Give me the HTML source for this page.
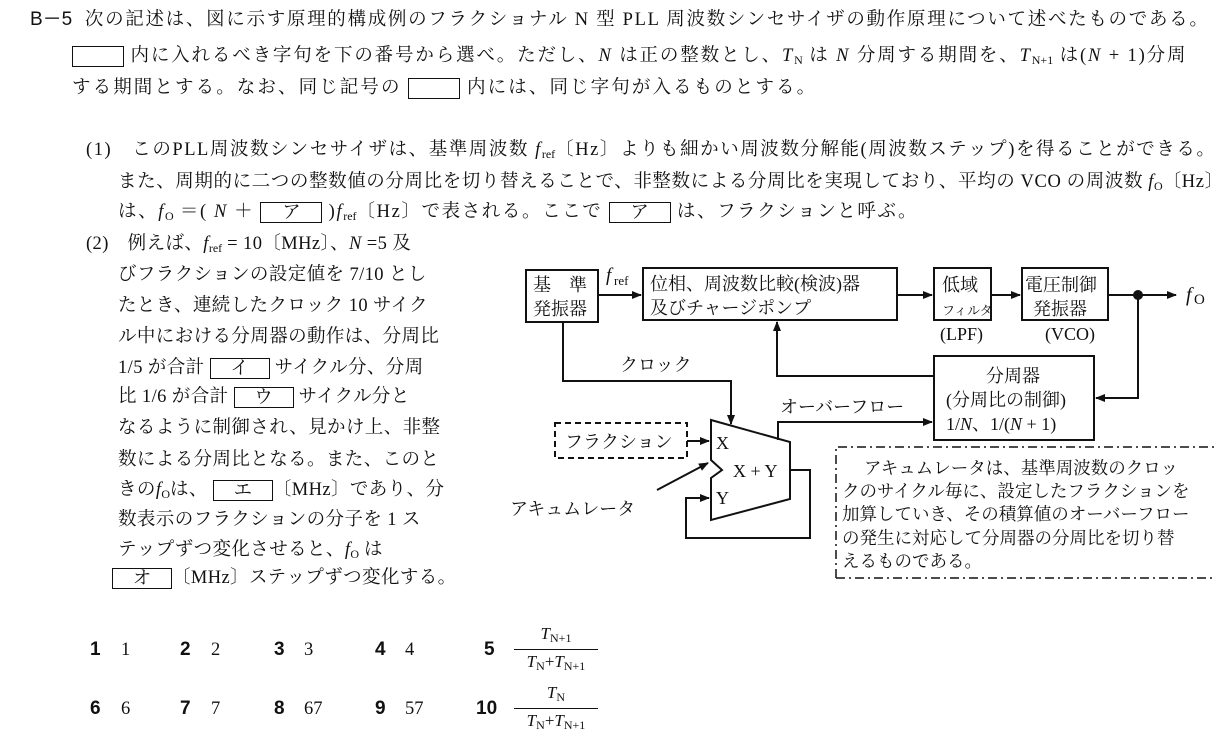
<!DOCTYPE html>
<html><head><meta charset="utf-8"><style>
body{margin:0;width:1216px;height:733px;background:#fff;position:relative;overflow:hidden;font-family:"Liberation Serif","Noto Serif CJK SC",serif;font-size:18.5px;color:#111}
.l{position:absolute;white-space:nowrap;line-height:24px}
.b{display:inline-block;border:1.5px solid #111;height:21px;vertical-align:middle;text-align:center;line-height:21px;box-sizing:border-box;letter-spacing:0}
i{font-style:italic}
sub{font-size:12px;vertical-align:-3px;letter-spacing:0}
.g{font-family:"Liberation Sans","Noto Sans CJK JP",sans-serif;font-weight:bold;font-size:19px}
.fr{position:absolute;text-align:center;font-size:17px}
.c .l{letter-spacing:0.4px}
</style></head><body>
<div class="l" style="left:30px;top:8px;letter-spacing:1.7px"><span class="g" style="font-weight:normal;letter-spacing:0">B－5</span>&nbsp; 次の記述は、図に示す原理的構成例のフラクショナル N 型 PLL 周波数シンセサイザの動作原理について述べたものである。</div>
<div class="l" style="left:72px;top:44px;letter-spacing:1.85px"><span class="b" style="width:52px"></span> 内に入れるべき字句を下の番号から選べ。ただし、<i>N</i> は正の整数とし、<i>T</i><sub>N</sub> は <i>N</i> 分周する期間を、<i>T</i><sub>N+1</sub> は(<i>N</i> + 1)分周</div>
<div class="l" style="left:72px;top:76px;letter-spacing:2.1px">する期間とする。なお、同じ記号の <span class="b" style="width:52px"></span> 内には、同じ字句が入るものとする。</div>

<div class="l" style="left:86px;top:138px;letter-spacing:1.55px">(1)　このPLL周波数シンセサイザは、基準周波数 <i>f</i><sub>ref</sub>〔Hz〕よりも細かい周波数分解能(周波数ステップ)を得ることができる。</div>
<div class="l" style="left:118px;top:170px;letter-spacing:0.6px">また、周期的に二つの整数値の分周比を切り替えることで、非整数による分周比を実現しており、平均の VCO の周波数 <i>f</i><sub>O</sub>〔Hz〕</div>
<div class="l" style="left:118px;top:200px;letter-spacing:1.6px">は、<i>f</i><sub>O</sub> ＝( <i>N</i> ＋ <span class="b" style="width:62px">ア</span> )<i>f</i><sub>ref</sub>〔Hz〕で表される。ここで <span class="b" style="width:62px">ア</span> は、フラクションと呼ぶ。</div>

<div class="c">
<div class="l" style="left:86px;top:232px">(2)　例えば、<i>f</i><sub>ref</sub> = 10〔MHz〕、<i>N</i> =5 及</div>
<div class="l" style="left:118px;top:263px">びフラクションの設定値を 7/10 とし</div>
<div class="l" style="left:118px;top:294px">たとき、連続したクロック 10 サイク</div>
<div class="l" style="left:118px;top:325px">ル中における分周器の動作は、分周比</div>
<div class="l" style="left:118px;top:356px">1/5 が合計 <span class="b" style="width:60px">イ</span> サイクル分、分周</div>
<div class="l" style="left:118px;top:385px">比 1/6 が合計 <span class="b" style="width:60px">ウ</span> サイクル分と</div>
<div class="l" style="left:118px;top:416px">なるように制御され、見かけ上、非整</div>
<div class="l" style="left:118px;top:448px">数による分周比となる。また、このと</div>
<div class="l" style="left:118px;top:478px">きの<i>f</i><sub>O</sub>は、 <span class="b" style="width:60px">エ</span>〔MHz〕であり、分</div>
<div class="l" style="left:118px;top:508px">数表示のフラクションの分子を 1 ス</div>
<div class="l" style="left:118px;top:538px">テップずつ変化させると、<i>f</i><sub>O</sub> は</div>
<div class="l" style="left:112px;top:566px"><span class="b" style="width:60px">オ</span>〔MHz〕ステップずつ変化する。</div>
</div>

<div class="l g" style="left:90px;top:638px">1</div><div class="l" style="left:121px;top:638px">1</div>
<div class="l g" style="left:180px;top:638px">2</div><div class="l" style="left:211px;top:638px">2</div>
<div class="l g" style="left:274px;top:638px">3</div><div class="l" style="left:304px;top:638px">3</div>
<div class="l g" style="left:375px;top:638px">4</div><div class="l" style="left:405px;top:638px">4</div>
<div class="l g" style="left:484px;top:638px">5</div>
<div class="l g" style="left:90px;top:697px">6</div><div class="l" style="left:121px;top:697px">6</div>
<div class="l g" style="left:180px;top:697px">7</div><div class="l" style="left:211px;top:697px">7</div>
<div class="l g" style="left:274px;top:697px">8</div><div class="l" style="left:304px;top:697px">67</div>
<div class="l g" style="left:375px;top:697px">9</div><div class="l" style="left:405px;top:697px">57</div>
<div class="l g" style="left:476px;top:697px">10</div>
<div class="fr" style="left:514px;top:624px;width:84px"><i>T</i><sub>N+1</sub></div>
<div style="position:absolute;left:514px;top:649px;width:84px;border-top:1.5px solid #111"></div>
<div class="fr" style="left:514px;top:652px;width:84px"><i>T</i><sub>N</sub>+<i>T</i><sub>N+1</sub></div>
<div class="fr" style="left:514px;top:683px;width:84px"><i>T</i><sub>N</sub></div>
<div style="position:absolute;left:514px;top:708px;width:84px;border-top:1.5px solid #111"></div>
<div class="fr" style="left:514px;top:711px;width:84px"><i>T</i><sub>N</sub>+<i>T</i><sub>N+1</sub></div>

<svg width="1216" height="733" style="position:absolute;left:0;top:0" font-family="Liberation Serif, Noto Serif CJK SC, serif" font-size="18">
<defs><marker id="a" markerWidth="10" markerHeight="8" refX="9" refY="4" orient="auto" markerUnits="userSpaceOnUse"><path d="M0,0L10,4L0,8z" fill="#111"/></marker></defs>
<g fill="none" stroke="#111" stroke-width="2">
<rect x="526" y="270" width="72" height="52"/>
<rect x="643" y="268" width="254" height="52"/>
<rect x="934" y="268" width="57" height="52"/>
<rect x="1022" y="268" width="86" height="52"/>
<rect x="934" y="356" width="160" height="84"/>
<path d="M598,295H641" marker-end="url(#a)"/>
<path d="M897,295H932" marker-end="url(#a)"/>
<path d="M991,295H1020" marker-end="url(#a)"/>
<path d="M1108,295H1176" marker-end="url(#a)"/>
<path d="M1138,295V398H1096" marker-end="url(#a)"/>
<path d="M934,376H777V322" marker-end="url(#a)"/>
<path d="M563,322V381H731V424" marker-end="url(#a)"/>
<path d="M711,420L790,442V499L711,520V478L722,470L711,460Z"/>
<path d="M778,440V422H932" marker-end="url(#a)"/>
<path d="M790,470H810V538H686V498H709" marker-end="url(#a)"/>
<path d="M687,441H709" marker-end="url(#a)"/>
<path d="M657,490L708,463" marker-end="url(#a)"/>
<rect x="555" y="423" width="132" height="35" stroke-dasharray="6,4"/>
<path d="M836,578V447H1216M836,578H1216" stroke-dasharray="9,4,2,4" stroke-width="1.5"/>
</g>
<circle cx="1138" cy="295" r="5" fill="#111"/>
<g fill="#111">
<text x="533" y="291">基　準</text><text x="533" y="315">発振器</text>
<text x="606" y="281" font-style="italic" font-size="19">f</text><text x="614" y="285" font-size="13">ref</text>
<text x="650" y="290">位相、周波数比較(検波)器</text><text x="650" y="314">及びチャージポンプ</text>
<text x="942" y="291">低域</text><text x="942" y="315" font-size="13">フィルタ</text>
<text x="1025" y="291">電圧制御</text><text x="1033" y="315">発振器</text>
<text x="940" y="340">(LPF)</text><text x="1045" y="340">(VCO)</text>
<text x="1186" y="301" font-style="italic" font-size="20">f</text><text x="1194" y="304" font-size="15">O</text>
<text x="986" y="382">分周器</text><text x="946" y="406">(分周比の制御)</text>
<text x="946" y="430">1/<tspan font-style="italic">N</tspan>、1/(<tspan font-style="italic">N</tspan> + 1)</text>
<text x="620" y="371">クロック</text>
<text x="780" y="413">オーバーフロー</text>
<text x="565" y="448">フラクション</text>
<text x="716" y="449">X</text><text x="733" y="477">X + Y</text><text x="716" y="504">Y</text>
<text x="510" y="515">アキュムレータ</text>
<text x="864" y="474" font-size="17.5">アキュムレータは、基準周波数のクロッ</text>
<text x="842" y="497" font-size="17.5">クのサイクル毎に、設定したフラクションを</text>
<text x="842" y="520" font-size="17.5">加算していき、その積算値のオーバーフロー</text>
<text x="842" y="544" font-size="17.5">の発生に対応して分周器の分周比を切り替</text>
<text x="842" y="567" font-size="17.5">えるものである。</text>
</g>
</svg>
</body></html>
